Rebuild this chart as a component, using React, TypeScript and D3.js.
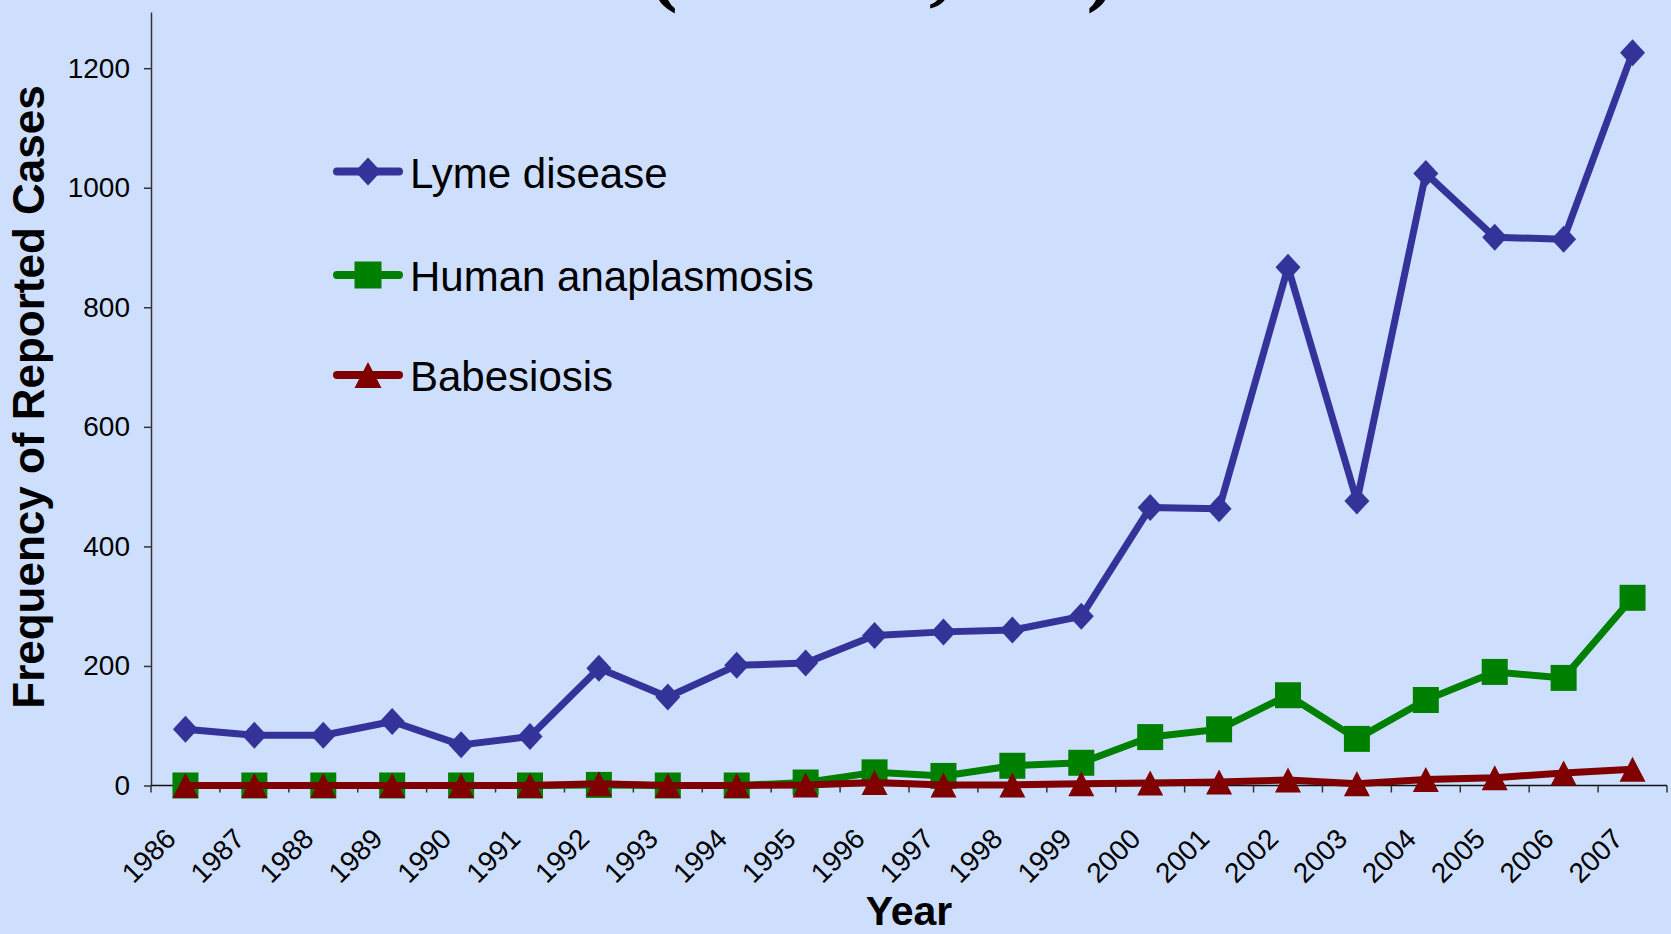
import React, { useEffect, useRef } from 'react';
import * as d3 from 'd3';

const years = [
    '1986', '1987', '1988', '1989', '1990', '1991', '1992', '1993', '1994', '1995', '1996',
    '1997', '1998', '1999', '2000', '2001', '2002', '2003', '2004', '2005', '2006', '2007',
];
const lymeCases = [94, 84, 84, 107, 68, 82, 196, 148, 201, 205, 251, 257, 260, 283, 465, 463, 867, 476, 1024, 917, 914, 1226];
const anaplasmosisCases = [0, 0, 0, 0, 0, 0, 1, 0, 0, 5, 22, 16, 33, 38, 81, 94, 151, 78, 143, 190, 180, 314];
const babesiosisCases = [0, 0, 0, 0, 0, 0, 3, 0, 0, 1, 5, 1, 1, 3, 4, 6, 9, 3, 10, 13, 21, 27];
const yTickValues = [0, 200, 400, 600, 800, 1000, 1200];

const seriesNames = ['Lyme disease', 'Human anaplasmosis', 'Babesiosis'];
const seriesColors = ['#333399', '#008000', '#800000'];
const seriesShapes = ['diamond', 'square', 'triangle'];

const titleText = '(N = 10,581)';
const xTitle = 'Year';
const yTitle = 'Frequency of Reported Cases';

const WIDTH = 1671;
const HEIGHT = 934;
const SANS = '"Liberation Sans", Arial, sans-serif';

// marker outline centred on 0,0
const markerPath = (shape: string, w: number, h: number) => {
    const p = d3.path();
    if (shape === 'diamond') {
        p.moveTo(0, -h / 2);
        p.lineTo(w / 2, 0);
        p.lineTo(0, h / 2);
        p.lineTo(-w / 2, 0);
        p.closePath();
    } else if (shape === 'square') {
        p.rect(-w / 2, -h / 2, w, h);
    } else {
        p.moveTo(0, -h / 2);
        p.lineTo(w / 2, h / 2);
        p.lineTo(-w / 2, h / 2);
        p.closePath();
    }
    return p.toString();
};

const markerSize: Record<string, [number, number]> = {
    diamond: [25, 27],
    square: [26, 26],
    triangle: [26, 25],
};

export default function App() {
    const svgRef = useRef<SVGSVGElement>(null);

    useEffect(() => {
        document.body.style.margin = '0';
        document.body.style.overflow = 'hidden';

        const svg = d3.select(svgRef.current);
        svg.selectAll('*').remove();

        svg.append('rect')
            .attr('width', WIDTH)
            .attr('height', HEIGHT)
            .attr('fill', '#CEDEFD');

        // scales
        const x = d3.scaleBand().domain(years).range([151, 1667]);
        const y = d3.scaleLinear().domain([0, 1294]).range([785.5, 12]);
        const cx = (i: number) => (x(years[i]) as number) + x.bandwidth() / 2;

        // title, cut off by the top edge in the original
        svg.append('text')
            .attr('x', 882)
            .attr('y', -6)
            .attr('text-anchor', 'middle')
            .style('font-family', '"Liberation Serif", "Times New Roman", serif')
            .style('font-weight', 'bold')
            .style('font-size', '90px')
            .text(titleText);

        // y axis
        const yAxis = svg.append('g')
            .attr('transform', 'translate(151,0)')
            .call(d3.axisLeft(y)
                .tickValues(yTickValues)
                .tickFormat(d3.format('d'))
                .tickSize(7)
                .tickSizeOuter(0)
                .tickPadding(14));
        yAxis.select('.domain').attr('stroke', '#333').attr('stroke-width', 1.5);
        yAxis.selectAll('.tick line').attr('stroke', '#333').attr('stroke-width', 1.5);
        yAxis.selectAll('.tick text')
            .attr('fill', '#000')
            .style('font-family', SANS)
            .style('font-size', '28px');

        // x axis (category ticks sit between the years)
        const xAxis = svg.append('g');
        xAxis.append('line')
            .attr('x1', x.range()[0])
            .attr('x2', x.range()[1])
            .attr('y1', y(0))
            .attr('y2', y(0))
            .attr('stroke', '#111')
            .attr('stroke-width', 1.5);
        const tickXs = years.map((yr) => x(yr) as number).concat([x.range()[1]]);
        xAxis.selectAll('line.tick')
            .data(tickXs)
            .join('line')
            .attr('class', 'tick')
            .attr('x1', (d) => d)
            .attr('x2', (d) => d)
            .attr('y1', y(0))
            .attr('y2', y(0) + 7)
            .attr('stroke', '#333')
            .attr('stroke-width', 1.5);
        xAxis.selectAll('text')
            .data(years)
            .join('text')
            .attr('transform', (d, i) => `translate(${cx(i) - 8},${y(0) + 55}) rotate(-45)`)
            .attr('text-anchor', 'end')
            .style('font-family', SANS)
            .style('font-size', '28px')
            .text((d) => d);

        // series
        const allSeries = [lymeCases, anaplasmosisCases, babesiosisCases];
        const line = d3.line<number>()
            .x((d, i) => cx(i))
            .y((d) => y(d));

        allSeries.forEach((values, s) => {
            const g = svg.append('g');
            g.append('path')
                .datum(values)
                .attr('d', line)
                .attr('fill', 'none')
                .attr('stroke', seriesColors[s])
                .attr('stroke-width', 7)
                .attr('stroke-linejoin', 'round');
            const [mw, mh] = markerSize[seriesShapes[s]];
            g.selectAll('path.marker')
                .data(values)
                .join('path')
                .attr('class', 'marker')
                .attr('transform', (d, i) => `translate(${cx(i)},${y(d)})`)
                .attr('d', markerPath(seriesShapes[s], mw, mh))
                .attr('fill', seriesColors[s]);
        });

        // legend
        const legend = svg.append('g');
        const legendRows = [171.5, 275, 375];
        seriesNames.forEach((name, s) => {
            const ly = legendRows[s];
            legend.append('line')
                .attr('x1', 337)
                .attr('x2', 399)
                .attr('y1', ly)
                .attr('y2', ly)
                .attr('stroke', seriesColors[s])
                .attr('stroke-width', 8)
                .attr('stroke-linecap', 'round');
            const [mw, mh] = markerSize[seriesShapes[s]];
            legend.append('path')
                .attr('transform', `translate(368,${ly})`)
                .attr('d', markerPath(seriesShapes[s], mw + 1, mh + 1))
                .attr('fill', seriesColors[s]);
            legend.append('text')
                .attr('x', 410)
                .attr('y', ly + 16)
                .style('font-family', SANS)
                .style('font-size', '42px')
                .text(name);
        });

        // axis titles
        svg.append('text')
            .attr('x', 909)
            .attr('y', 925)
            .attr('text-anchor', 'middle')
            .style('font-family', SANS)
            .style('font-weight', 'bold')
            .style('font-size', '41px')
            .text(xTitle);

        svg.append('text')
            .attr('transform', 'translate(44,397) rotate(-90)')
            .attr('text-anchor', 'middle')
            .style('font-family', SANS)
            .style('font-weight', 'bold')
            .style('font-size', '44px')
            .text(yTitle);
    }, []);

    return (
        <svg
            ref={svgRef}
            width={WIDTH}
            height={HEIGHT}
            style={{ display: 'block', position: 'absolute', left: 0, top: 0 }}
        />
    );
}
